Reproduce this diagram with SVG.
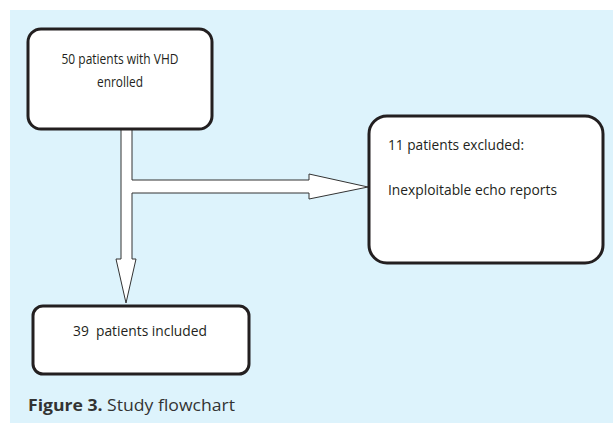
<svg xmlns="http://www.w3.org/2000/svg" width="613" height="423" viewBox="0 0 613 423">
<style>
.box{fill:#fff;stroke:#231f20;stroke-width:3}
.arr{fill:#fff;stroke:#333;stroke-width:1}
.t{font-family:"Open Sans","Liberation Sans",Arial,sans-serif;font-size:14px;fill:#231f20}
.cap{font-family:"Open Sans","Liberation Sans",sans-serif;font-size:16.5px;fill:#333}
</style>
<rect x="0" y="0" width="613" height="423" fill="#fff"/>
<rect x="10" y="10" width="603" height="413" fill="#ddf3fc"/>
<g id="connectors">
<polygon class="arr" points="121,129 132,129 132,180 309,180 309,174 368,187 309,199 309,193 132,193 132,259 136,259 126,303 116,259 121,259"/>
</g>
<g id="n1">
<rect class="box" x="28" y="29" width="184" height="100" rx="13"/>
<text class="t" x="120" y="64" text-anchor="middle" textLength="117" lengthAdjust="spacingAndGlyphs">50 patients with VHD</text>
<text class="t" x="120" y="87" text-anchor="middle" textLength="46" lengthAdjust="spacingAndGlyphs">enrolled</text>
</g>
<g id="n2">
<rect class="box" x="369" y="116" width="234" height="147" rx="18"/>
<text class="t" x="388" y="150" textLength="136" lengthAdjust="spacingAndGlyphs">11 patients excluded:</text>
<text class="t" x="388" y="195" textLength="169" lengthAdjust="spacingAndGlyphs">Inexploitable echo reports</text>
</g>
<g id="n3">
<rect class="box" x="33" y="306" width="216" height="68" rx="10"/>
<text class="t" x="73" y="336" textLength="134" lengthAdjust="spacingAndGlyphs" xml:space="preserve">39  patients included</text>
</g>
<text class="cap" x="28" y="411" textLength="207" lengthAdjust="spacingAndGlyphs"><tspan font-weight="bold">Figure 3.</tspan> Study flowchart</text>
</svg>
